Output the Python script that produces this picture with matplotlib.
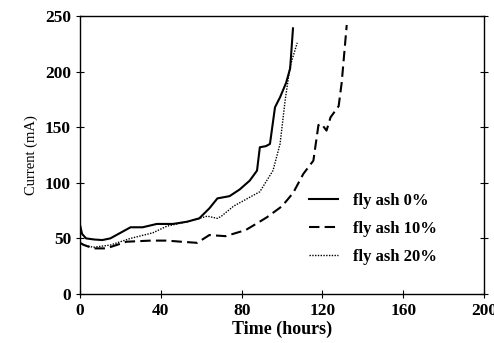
import matplotlib
matplotlib.use("Agg")
import matplotlib.pyplot as plt

t0 = [0, 1, 3, 7, 11, 15, 18, 22, 25, 31, 38, 46, 53, 59, 64, 68, 74, 79, 84, 87.6, 89, 92, 94, 96.5, 99, 102, 104, 105.4]
i0 = [62, 54, 50, 49, 48.5, 50, 53, 57, 60, 60, 63, 63, 65, 68, 77, 86, 88, 94, 102, 111, 132, 133, 135, 168, 177, 190, 203, 239]

t10 = [0, 2, 6.6, 13, 18, 23, 35, 43, 50, 58, 64, 72, 82, 88, 92.5, 100, 105.5, 110.5, 115.5, 118, 119.5, 122, 124, 128, 129.5, 132]
i10 = [46, 44, 41, 41, 44, 47, 48, 48, 47, 46, 53, 52, 57.5, 64, 69, 79, 91, 108, 120, 152, 153, 147, 159, 169, 190, 242]

t20 = [0, 2, 6.6, 15, 25, 36, 43, 53, 63, 68, 70, 76, 82, 89, 95.5, 99, 101.5, 104, 107.5]
i20 = [45, 44, 42, 44, 50, 55, 61, 65, 70, 68, 70, 79, 85, 92, 111, 135, 174, 205, 226]

labels = ["fly ash 0%", "fly ash 10%", "fly ash 20%"]

plt.rcParams['font.family'] = ['Liberation Serif', 'DejaVu Serif']
fig = plt.figure(figsize=(4.94, 3.43), dpi=100)
ax = fig.add_axes([0.162, 0.143, 0.818, 0.810])

ax.plot(t0, i0, color='black', lw=1.5, ls='-', label=labels[0])
ax.plot(t10, i10, color='black', lw=1.5, ls=(0, (5, 2.5)), label=labels[1])
ax.plot(t20, i20, color='black', lw=1.0, ls=(0, (1, 1)), label=labels[2])

ax.set_xlim(0, 200)
ax.set_ylim(0, 250)
ax.set_xticks([0, 40, 80, 120, 160, 200])
ax.set_yticks([0, 50, 100, 150, 200, 250])
ax.tick_params(axis='both', direction='inout', length=6, width=0.8, labelsize=12.5, right=True)
for lab in ax.get_xticklabels() + ax.get_yticklabels():
    lab.set_fontweight('bold')
ax.set_xlabel("Time (hours)", fontsize=13, fontweight='semibold', labelpad=1)
ax.set_ylabel("Current (mA)", fontsize=10.5, labelpad=5)
for s in ax.spines.values():
    s.set_linewidth(1.0)

leg = ax.legend(loc='upper left', bbox_to_anchor=(0.567, 0.365), frameon=False,
                borderpad=0, borderaxespad=0,
                handlelength=1.75, handletextpad=0.9, labelspacing=0.72,
                prop={'family': 'Liberation Serif', 'weight': 'bold', 'size': 12})

fig.savefig("out.png", dpi=100)
